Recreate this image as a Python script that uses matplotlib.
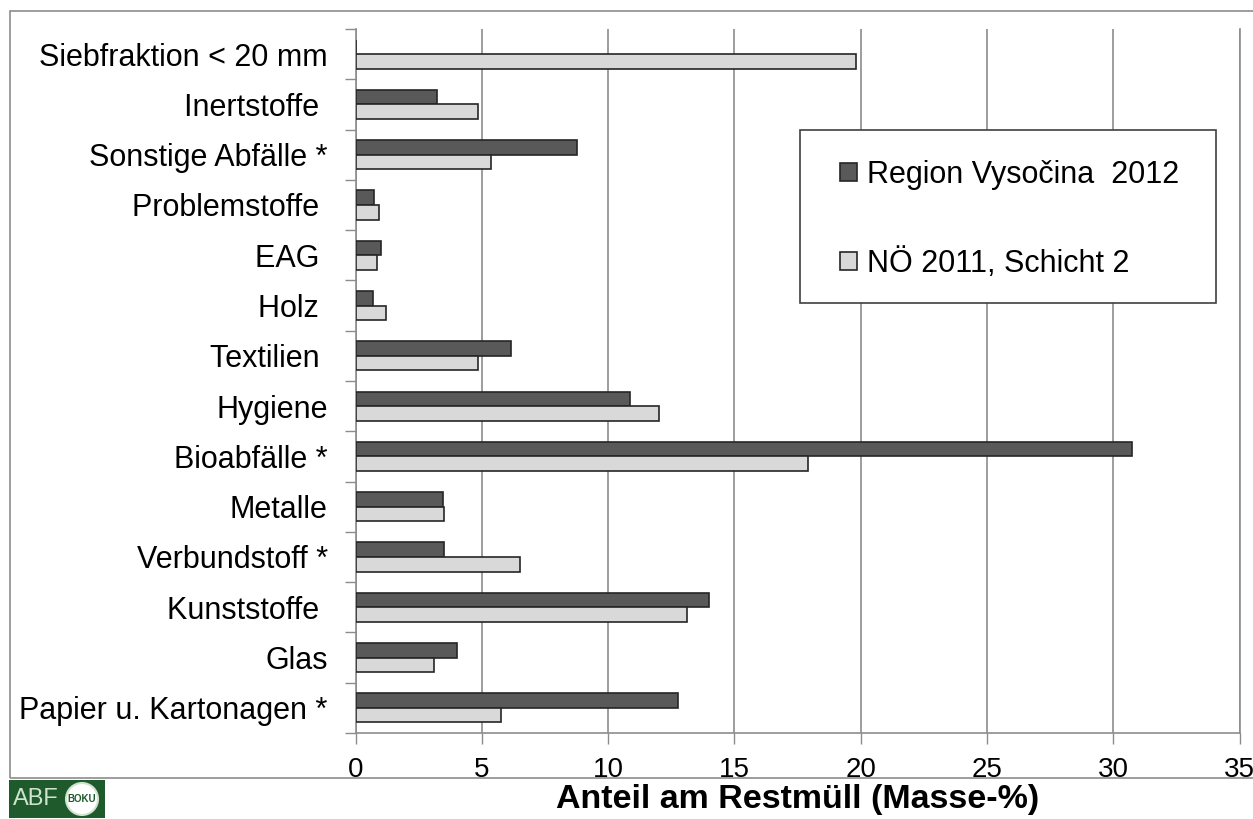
import matplotlib.pyplot as plt
import matplotlib.patches as patches
import numpy as np

# categories from bottom to top
categories = ['Papier u. Kartonagen *', 'Glas', 'Kunststoffe ', 'Verbundstoff *',
              'Metalle', 'Bioabfälle *', 'Hygiene', 'Textilien ', 'Holz ', 'EAG ',
              'Problemstoffe ', 'Sonstige Abfälle *', 'Inertstoffe ', 'Siebfraktion < 20 mm']
vysocina = [12.75, 4.03, 14.0, 3.52, 3.47, 30.75, 10.86, 6.14, 0.7, 0.99, 0.72, 8.77, 3.22, 0.0]
noe = [5.77, 3.12, 13.13, 6.53, 3.52, 17.93, 12.0, 4.85, 1.19, 0.87, 0.94, 5.37, 4.84, 19.8]
series_names = ['Region Vysočina  2012', 'NÖ 2011, Schicht 2']
xticks = [0, 5, 10, 15, 20, 25, 30, 35]

plt.rcParams['font.family'] = ['Liberation Sans', 'DejaVu Sans']

W, H = 1253, 819
fig = plt.figure(figsize=(W / 100, H / 100), dpi=100)
ax = fig.add_axes([355.5 / W, 1 - 733 / H, (1239.5 - 355.5) / W, (733 - 29) / H])

y = np.arange(len(categories))
h = 0.29
dark = '#595959'
light = '#d9d9d9'
edge = '#262626'
b1 = ax.barh(y + h / 2, vysocina, height=h, color=dark, edgecolor=edge, linewidth=1.2,
             label=series_names[0], zorder=3)
b2 = ax.barh(y - h / 2, noe, height=h, color=light, edgecolor=edge, linewidth=1.2,
             label=series_names[1], zorder=3)

ax.set_xlim(0, 35)
ax.set_ylim(-0.5, len(categories) - 0.5)
ax.set_xticks(xticks)
ax.set_xticklabels([str(t) for t in xticks], fontsize=20)
ax.tick_params(axis='x', length=8, width=1, color='#8c8c8c', pad=9)

ax.set_yticks(np.arange(len(categories) + 1) - 0.5)
ax.set_yticklabels([])
ax.set_yticks(y, minor=True)
ax.set_yticklabels(categories, minor=True, fontsize=22)
ax.tick_params(axis='y', which='major', length=8, width=1, color='#8c8c8c', direction='out')
ax.tick_params(axis='y', which='minor', length=0, pad=20)

ax.grid(axis='x', color='#8c8c8c', linewidth=1.2, zorder=0)
ax.set_axisbelow(True)
ax.spines['top'].set_visible(False)
for s in ['right', 'left', 'bottom']:
    ax.spines[s].set_color('#8c8c8c')
    ax.spines[s].set_linewidth(1.2)

ax.set_xlabel('Anteil am Restmüll (Masse-%)', fontsize=24.5, fontweight='bold', labelpad=1)

# legend box drawn separately so its padding can match
fig.patches.append(patches.Rectangle((800 / W, 1 - 303 / H), 416 / W, 173 / H,
                                     transform=fig.transFigure, facecolor='white',
                                     edgecolor='#404040', linewidth=1.2, zorder=5))
leg = fig.legend(handles=[b1, b2], loc='upper left', bbox_to_anchor=(840 / W, 1 - 160 / H),
                 fontsize=22, frameon=False, labelspacing=1.9, handlelength=0.55,
                 handleheight=0.55, handletextpad=0.33, borderpad=0, borderaxespad=0)
leg.set_zorder(6)

# outer frame
fig.patches.append(patches.Rectangle((10 / W, 1 - 778 / H), 1.5, (778 - 11) / H,
                                     transform=fig.transFigure, fill=False,
                                     edgecolor='#8c8c8c', linewidth=1.2))

# logo
fig.patches.append(patches.Rectangle((9 / W, 1 - 818 / H), 96 / W, 38 / H,
                                     transform=fig.transFigure, facecolor='#1e5a2c',
                                     edgecolor='none'))
fig.text(36 / W, 1 - 799 / H, 'ABF', color='#cfe3cf', fontsize=17, ha='center',
         va='center')
fig.patches.append(patches.Ellipse((82 / W, 1 - 799 / H), 32 / W, 32 / H,
                                   transform=fig.transFigure, facecolor='white',
                                   edgecolor='#cfe3cf', linewidth=1.5))
fig.text(82 / W, 1 - 799 / H, 'BOKU', color='#1e5a2c', fontsize=7, ha='center',
         va='center', fontweight='bold')

fig.savefig('out.png', dpi=100)
